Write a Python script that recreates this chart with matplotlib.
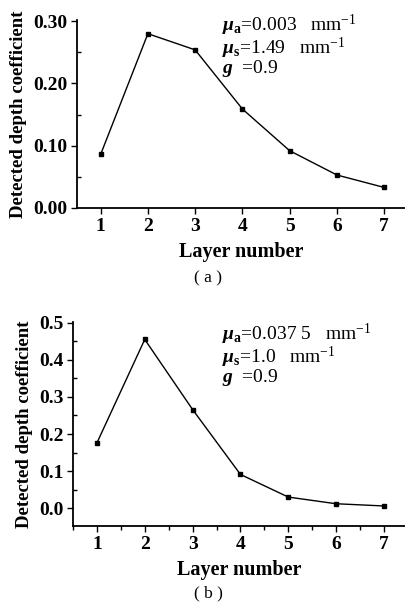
import matplotlib

matplotlib.use("Agg")
import matplotlib.pyplot as plt  # noqa: E402
from matplotlib.ticker import MultipleLocator, FormatStrFormatter  # noqa: E402

# data
layers = [1, 2, 3, 4, 5, 6, 7]
coef_a = [0.086, 0.280, 0.254, 0.159, 0.092, 0.053, 0.033]
coef_b = [0.176, 0.455, 0.266, 0.091, 0.030, 0.012, 0.006]

params_a = [r"$\mu_{\mathbf{a}}$=0.003   mm$^{\mathrm{-1}}$",
            r"$\mu_{\mathbf{s}}$=1.49   mm$^{\mathrm{-1}}$",
            r"$g$  =0.9"]
params_b = [r"$\mu_{\mathbf{a}}$=0.037 5   mm$^{\mathrm{-1}}$",
            r"$\mu_{\mathbf{s}}$=1.0   mm$^{\mathrm{-1}}$",
            r"$g$  =0.9"]

plt.rcParams["font.family"] = "Liberation Serif"
plt.rcParams["mathtext.fontset"] = "custom"
plt.rcParams["mathtext.rm"] = "Liberation Serif"
plt.rcParams["mathtext.it"] = "Liberation Serif:italic:bold"
plt.rcParams["mathtext.bf"] = "Liberation Serif:bold"

W, H = 405, 604
fig = plt.figure(figsize=(W / 100, H / 100), dpi=100, facecolor="white")


def panel(rect, y, ylim, ymajor, yfmt, params, tag, tag_y, text_y, xminor):
    ax = fig.add_axes(rect)
    ax.plot(layers, y, color="black", lw=1.0, marker="s", ms=3.2)
    ax.set_xlim(0.5, 7.44)
    ax.set_ylim(*ylim)
    ax.xaxis.set_major_locator(MultipleLocator(1))
    if xminor:
        ax.xaxis.set_minor_locator(MultipleLocator(0.5))
    ax.yaxis.set_major_locator(MultipleLocator(ymajor))
    ax.yaxis.set_minor_locator(MultipleLocator(0.05))
    ax.yaxis.set_major_formatter(FormatStrFormatter(yfmt))
    for s in ("top", "right"):
        ax.spines[s].set_visible(False)
    for s in ("left", "bottom"):
        ax.spines[s].set_linewidth(1.3)
    ax.tick_params(which="major", length=4, width=1.0, direction="out",
                   labelsize=14, pad=3)
    ax.tick_params(axis="x", which="minor", length=3, width=1.0, direction="out")
    ax.tick_params(axis="y", which="minor", length=3, width=1.0, direction="in")
    for lab in ax.get_xticklabels() + ax.get_yticklabels():
        lab.set_fontweight("bold")
    ax.set_xlabel("Layer number", fontsize=14.5, fontweight="bold", labelpad=5)
    ax.set_ylabel("Detected depth coefficient", fontsize=13.5, fontweight="bold",
                  labelpad=4)
    # parameter block, one text so the lines sit tight like the original
    fig.text(222 / W, 1 - text_y / H, "\n".join(params), fontsize=14,
             va="top", ha="left", linespacing=0.85)
    fig.text(208 / W, 1 - tag_y / H, tag, fontsize=12.5, ha="center", va="center")
    return ax


panel([77 / W, 1 - 208 / H, 328 / W, 188 / H], coef_a, (0, 0.302), 0.10, "%.2f",
      params_a, "( a )", 278, 13, False)
panel([73 / W, 1 - 526 / H, 332 / W, 204 / H], coef_b, (-0.048, 0.502), 0.1, "%.1f",
      params_b, "( b )", 593, 322, True)

fig.savefig("out.png", dpi=100, facecolor="white")
